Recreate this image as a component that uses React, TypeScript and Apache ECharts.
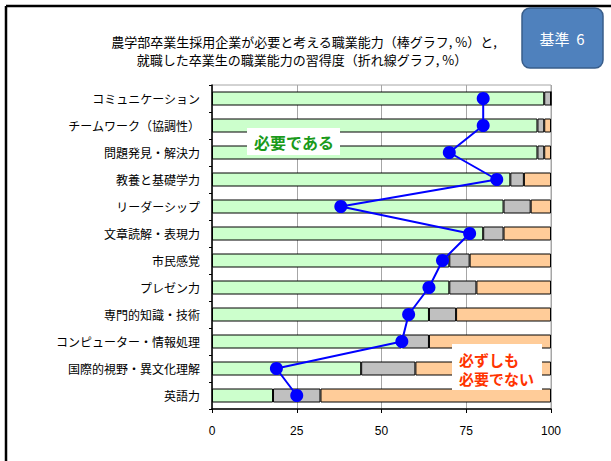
import React, { useEffect, useRef } from "react";
import * as echarts from "echarts";

// 職業能力の項目(上から順に)
const categories = [
  "コミュニケーション",
  "チームワーク（協調性）",
  "問題発見・解決力",
  "教養と基礎学力",
  "リーダーシップ",
  "文章読解・表現力",
  "市民感覚",
  "プレゼン力",
  "専門的知識・技術",
  "コンピューター・情報処理",
  "国際的視野・異文化理解",
  "英語力",
];

// 企業が必要と考える割合(棒グラフ, %)
const necessary = [98, 96, 96, 88, 86, 80, 70, 70, 64, 56, 44, 18];
const neutral = [2, 2, 2, 4, 8, 6, 6, 8, 8, 8, 16, 14];
const notNecessary = [0, 2, 2, 8, 6, 14, 24, 22, 28, 36, 40, 68];

// 卒業生の習得度(折れ線グラフ, %)
const acquired = [80, 80, 70, 84, 38, 76, 68, 64, 58, 56, 19, 25];

const xTicks = [0, 25, 50, 75, 100];

const FONT = 'Arial, "Liberation Sans", "Noto Sans CJK JP", sans-serif';
const JP = '"Noto Sans CJK JP", sans-serif';

export default function App() {
  const ref = useRef<HTMLDivElement>(null);

  useEffect(() => {
    if (!ref.current) return;
    const chart = echarts.init(ref.current, null, { renderer: "svg" });

    const barStyle = (color: string) => ({
      color,
      borderColor: "#000",
      borderWidth: 1,
    });

    chart.setOption({
      animation: false,
      backgroundColor: "#fff",
      textStyle: { fontFamily: FONT },
      grid: {
        left: 212,
        top: 85,
        right: 60,
        bottom: 52,
        show: true,
        borderColor: "#a6a6a6",
        borderWidth: 1,
      },
      xAxis: {
        type: "value",
        min: xTicks[0],
        max: xTicks[xTicks.length - 1],
        interval: 25,
        axisLine: { show: true, lineStyle: { color: "#000", width: 1.5 } },
        axisTick: { show: true, length: 4, lineStyle: { color: "#000" } },
        axisLabel: { color: "#000", fontSize: 12, margin: 16, fontFamily: FONT },
        splitLine: { show: true, lineStyle: { color: "#a6a6a6", width: 1 } },
      },
      yAxis: {
        type: "category",
        data: categories,
        inverse: true,
        axisLine: { show: true, lineStyle: { color: "#000", width: 1.5 } },
        axisTick: { show: true, length: 3, lineStyle: { color: "#000" } },
        axisLabel: { color: "#000", fontSize: 12, margin: 12, fontFamily: JP },
        splitLine: { show: false },
      },
      series: [
        {
          type: "bar",
          stack: "need",
          data: necessary,
          barWidth: 14,
          itemStyle: barStyle("#ccffcc"),
        },
        {
          type: "bar",
          stack: "need",
          data: neutral,
          barWidth: 14,
          itemStyle: barStyle("#c0c0c0"),
        },
        {
          type: "bar",
          stack: "need",
          data: notNecessary,
          barWidth: 14,
          itemStyle: barStyle("#ffcc99"),
        },
        {
          type: "line",
          data: acquired,
          symbol: "circle",
          symbolSize: 13,
          lineStyle: { color: "#0000ff", width: 2 },
          itemStyle: { color: "#0000ff" },
          z: 5,
        },
      ],
      graphic: [
        // 外枠
        {
          type: "line",
          shape: { x1: 6, y1: 6, x2: 611, y2: 6 },
          style: { stroke: "#000", lineWidth: 2.5 },
        },
        {
          type: "line",
          shape: { x1: 6, y1: 6, x2: 6, y2: 461 },
          style: { stroke: "#000", lineWidth: 2.5 },
        },
        // 表題
        {
          type: "text",
          x: 304,
          y: 41,
          style: {
            text: "農学部卒業生採用企業が必要と考える職業能力（棒グラフ, %）と,",
            fontSize: 13,
            lineHeight: 15,
            fontFamily: JP,
            fill: "#000",
            align: "center",
            verticalAlign: "middle",
          },
        },
        {
          type: "text",
          x: 302,
          y: 59,
          style: {
            text: "就職した卒業生の職業能力の習得度（折れ線グラフ, %）",
            fontSize: 13,
            lineHeight: 15,
            fontFamily: JP,
            fill: "#000",
            align: "center",
            verticalAlign: "middle",
          },
        },
        // 基準バッジ
        {
          type: "rect",
          shape: { x: 522, y: 8, width: 81, height: 60, r: 8 },
          style: { fill: "#4f81bd", stroke: "#385d8a", lineWidth: 1.5 },
        },
        {
          type: "text",
          x: 562,
          y: 38,
          style: {
            text: "基準  6",
            fontSize: 15,
            fontFamily: JP,
            fill: "#fff",
            align: "center",
            verticalAlign: "middle",
          },
        },
        // 注記: 必要である
        {
          type: "rect",
          shape: { x: 247, y: 128, width: 93, height: 27 },
          style: { fill: "#fff" },
          z: 10,
        },
        {
          type: "text",
          x: 294,
          y: 142,
          z: 11,
          style: {
            text: "必要である",
            fontSize: 16,
            fontWeight: "bold",
            fontFamily: JP,
            fill: "#1a9a1a",
            align: "center",
            verticalAlign: "middle",
          },
        },
        // 注記: 必ずしも必要でない
        {
          type: "rect",
          shape: { x: 452, y: 344, width: 90, height: 46 },
          style: { fill: "#fff" },
          z: 10,
        },
        {
          type: "text",
          x: 459,
          y: 359,
          z: 11,
          style: {
            text: "必ずしも",
            fontSize: 15,
            fontWeight: "bold",
            fontFamily: JP,
            fill: "#ff3300",
            align: "left",
            verticalAlign: "middle",
          },
        },
        {
          type: "text",
          x: 459,
          y: 378,
          z: 11,
          style: {
            text: "必要でない",
            fontSize: 15,
            fontWeight: "bold",
            fontFamily: JP,
            fill: "#ff3300",
            align: "left",
            verticalAlign: "middle",
          },
        },
      ],
    });

    return () => chart.dispose();
  }, []);

  return (
    <div
      ref={ref}
      style={{ position: "fixed", left: 0, top: 0, width: 611, height: 461, background: "#fff" }}
    />
  );
}
